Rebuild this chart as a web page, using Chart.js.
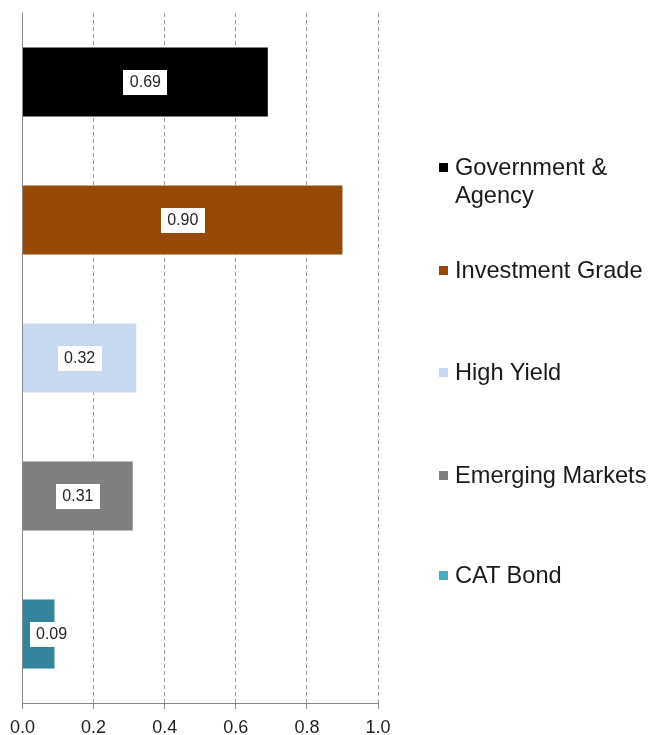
<!DOCTYPE html>
<html>
<head>
<meta charset="utf-8">
<script src="https://cdn.jsdelivr.net/npm/chart.js@4/dist/chart.umd.min.js"></script>
<style>
  html, body { margin: 0; padding: 0; background: #fff; }
  #wrap { position: relative; width: 649px; height: 735px; }
  #legend { position: absolute; left: 439px; top: 0; font-family: "Liberation Sans", Arial, sans-serif; font-size: 23.6px; color: #1a1a1a; }
  .item { position: absolute; left: 0; white-space: nowrap; line-height: 28px; }
  .sw { position: absolute; left: 0; top: 10px; width: 9px; height: 9px; }
  .tx { position: absolute; left: 16px; top: 0; }
</style>
</head>
<body>
<div id="wrap">
  <canvas id="c" width="649" height="735"></canvas>
  <div id="legend"></div>
</div>
<script>
const categories = ["Government & Agency", "Investment Grade", "High Yield", "Emerging Markets", "CAT Bond"];
const legendLines = [["Government &", "Agency"], ["Investment Grade"], ["High Yield"], ["Emerging Markets"], ["CAT Bond"]];
const values = [0.69, 0.90, 0.32, 0.31, 0.09];
const barColors = ["#000000", "#984807", "#c6d9f1", "#7f7f7f", "#31849b"];
const legendColors = ["#000000", "#984807", "#c6d9f1", "#7f7f7f", "#4bacc6"];
const xTicks = [0.0, 0.2, 0.4, 0.6, 0.8, 1.0];

const labelPlugin = {
  id: 'boxLabels',
  afterDatasetsDraw(chart) {
    const ctx = chart.ctx;
    const meta = chart.getDatasetMeta(0);
    const area = chart.chartArea;
    ctx.save();
    ctx.font = '16px "Liberation Sans", Arial, sans-serif';
    ctx.textBaseline = 'middle';
    ctx.textAlign = 'center';
    meta.data.forEach((bar, i) => {
      const txt = values[i].toFixed(2);
      const w = ctx.measureText(txt).width + 13;
      const h = 25;
      let cx = (bar.base + bar.x) / 2;
      let left = cx - w / 2;
      if (left < area.left + 7) { left = area.left + 7; cx = left + w / 2; }
      ctx.fillStyle = '#ffffff';
      ctx.fillRect(Math.round(left), Math.round(bar.y - h / 2), Math.round(w), h);
      ctx.fillStyle = '#262626';
      ctx.fillText(txt, cx, bar.y + 1);
    });
    ctx.restore();
  }
};

new Chart(document.getElementById('c'), {
  type: 'bar',
  data: {
    labels: categories,
    datasets: [{
      data: values,
      backgroundColor: barColors,
      borderWidth: 0,
      categoryPercentage: 1.0,
      barPercentage: 0.5
    }]
  },
  options: {
    indexAxis: 'y',
    responsive: false,
    animation: false,
    events: [],
    layout: { padding: { left: 14, right: 271, top: 13, bottom: -12 } },
    plugins: { legend: { display: false }, tooltip: { enabled: false } },
    scales: {
      x: {
        min: 0, max: 1,
        afterBuildTicks(scale) { scale.ticks = xTicks.map(v => ({ value: v })); },
        ticks: {
          font: { family: '"Liberation Sans", Arial, sans-serif', size: 18, lineHeight: 1.0 },
          color: '#1f1f1f',
          padding: 10,
          callback: (v) => Number(v).toFixed(1)
        },
        grid: {
          color: (c) => c.tick && c.tick.value === 0 ? 'rgba(0,0,0,0)' : '#9a9a9a',
          tickColor: '#888888',
          tickLength: 6,
          tickBorderDash: [],
          lineWidth: 1
        },
        border: { display: true, color: '#888888', width: 1, dash: [4, 3] }
      },
      y: {
        ticks: { display: false },
        grid: { display: false },
        border: { display: true, color: '#888888', width: 1 }
      }
    }
  },
  plugins: [labelPlugin]
});

const legendTops = [153, 256, 358, 461, 561];
const lg = document.getElementById('legend');
legendLines.forEach((lines, i) => {
  const d = document.createElement('div');
  d.className = 'item';
  d.style.top = legendTops[i] + 'px';
  const sw = document.createElement('div');
  sw.className = 'sw';
  sw.style.background = legendColors[i];
  const t = document.createElement('div');
  t.className = 'tx';
  t.innerHTML = lines.map(s => s.replace('&', '&amp;')).join('<br>');
  d.appendChild(sw); d.appendChild(t);
  lg.appendChild(d);
});
</script>
</body>
</html>
